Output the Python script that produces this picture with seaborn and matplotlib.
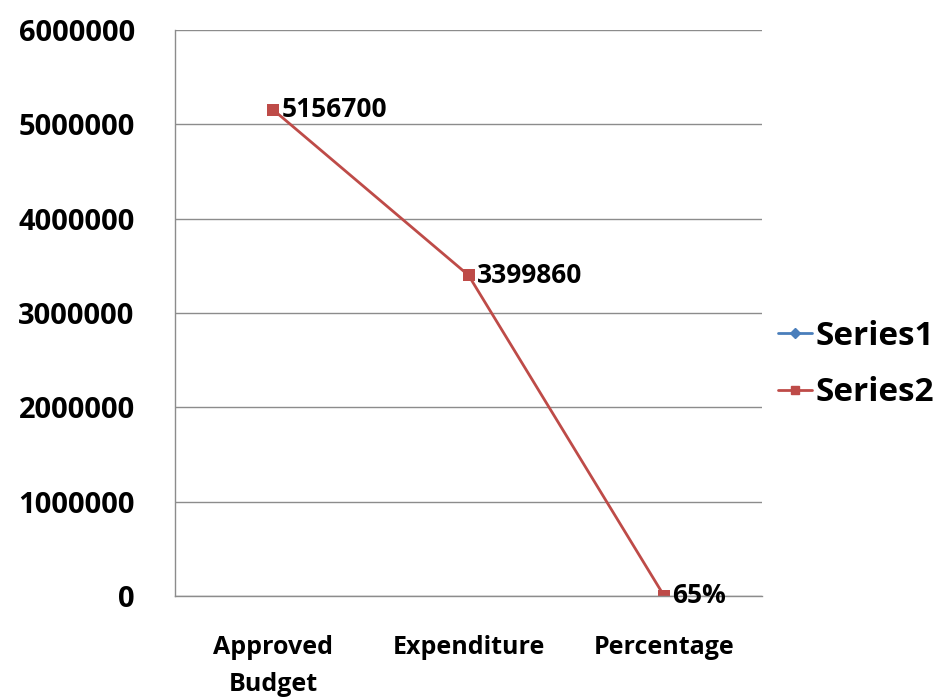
import matplotlib
import matplotlib.pyplot as plt
import seaborn as sns
import pandas
from matplotlib.lines import Line2D
plt.switch_backend('agg')

categories = ["Approved\nBudget", "Expenditure", "Percentage"]
series2_values = [5156700, 3399860, 65]
series2_labels = ["5156700", "3399860", "65%"]
series_names = ["Series1", "Series2"]
yticks = [0, 1000000, 2000000, 3000000, 4000000, 5000000, 6000000]

sns.set_style("white")
plt.rcParams['font.family'] = ['Open Sans', 'DejaVu Sans']
plt.rcParams['font.weight'] = 'bold'
plt.rcParams['text.color'] = 'black'
plt.rcParams['xtick.color'] = 'black'
plt.rcParams['ytick.color'] = 'black'

red = "#BE4B48"
blue = "#4A7EBB"
grid = "#8C8C8C"

fig = plt.figure(figsize=(9.39, 6.97), dpi=100)
ax = fig.add_axes([0.1864, 0.1449, 0.8115 - 0.1864, 0.957 - 0.1449])

d = pandas.DataFrame({'x': range(len(categories)), 'value': series2_values})
sns.lineplot(data=d, x='x', y='value', ax=ax, color=red, linewidth=2,
             marker='s', markersize=8, markeredgewidth=0, legend=False)

for x, y, lab in zip(d['x'], d['value'], series2_labels):
    ax.annotate(lab, (x, y), xytext=(6, 0), textcoords='offset points',
                va='center', ha='left', fontsize=19, fontweight='bold')

ax.set_xlim(-0.5, len(categories) - 0.5)
ax.set_ylim(0, 6000000)
ax.set_yticks(yticks)
ax.set_yticklabels([str(v) for v in yticks], fontsize=21, fontweight='bold')
ax.set_xticks(range(len(categories)))
ax.set_xticklabels(categories, fontsize=18, fontweight='bold', linespacing=1.65)
ax.set_xticks([i - 0.5 for i in range(len(categories) + 1)], minor=True)
ax.tick_params(axis='x', which='major', length=0, pad=28)
ax.tick_params(axis='x', which='minor', length=6, color=grid, direction='out')
ax.tick_params(axis='y', length=9, color=grid, direction='out', pad=20)
ax.set_xlabel("")
ax.set_ylabel("")
ax.yaxis.grid(True, color=grid, linewidth=1)
ax.set_axisbelow(True)
for s in ['top', 'right']:
    ax.spines[s].set_visible(False)
for s in ['left', 'bottom']:
    ax.spines[s].set_color(grid)
    ax.spines[s].set_linewidth(1)

handles = [Line2D([], [], color=blue, marker='D', markersize=5, linewidth=2),
           Line2D([], [], color=red, marker='s', markersize=6, linewidth=2)]
fig.legend(handles, series_names, loc='center left', bbox_to_anchor=(0.829, 0.477),
           frameon=False, handlelength=1.0, handletextpad=0.1, labelspacing=0.7,
           borderpad=0, borderaxespad=0, prop={'size': 24, 'weight': 'bold'})

plt.savefig("out.png", dpi=100)
